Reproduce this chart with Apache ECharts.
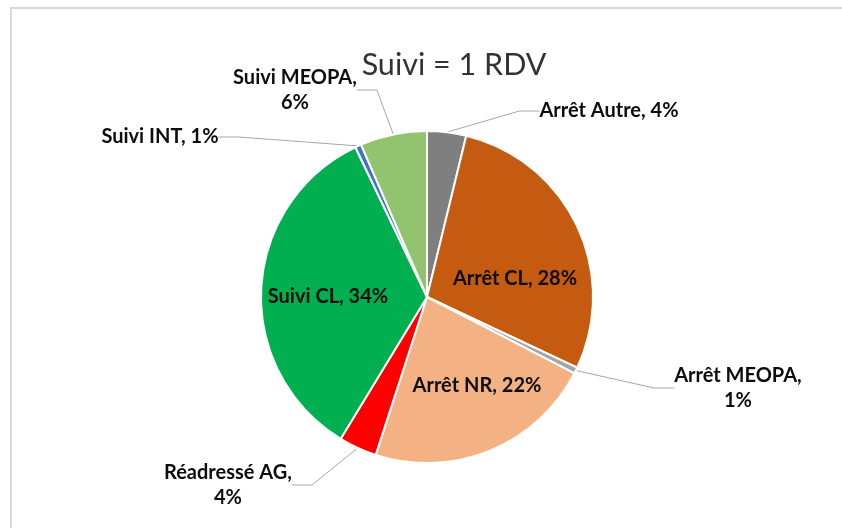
<!DOCTYPE html>
<html>
<head>
<meta charset="utf-8">
<script src="https://cdn.jsdelivr.net/npm/echarts@6/dist/echarts.min.js"></script>
<style>
  html, body { margin: 0; padding: 0; background: #fff; }
  #chart { width: 842px; height: 528px; }
</style>
</head>
<body>
<div id="chart"></div>
<script>
// slices, clockwise from 12 o'clock
var categories = ['Arrêt Autre', 'Arrêt CL', 'Arrêt MEOPA', 'Arrêt NR', 'Réadressé AG', 'Suivi CL', 'Suivi INT', 'Suivi MEOPA'];
var shares = [3.8, 28.2, 0.6, 22.4, 3.7, 34.2, 0.6, 6.5];
var sliceColors = ['#7f7f7f', '#c55a11', '#a5a5a5', '#f4b183', '#ff0000', '#00b050', '#4472c4', '#92c36e'];
// which labels sit inside the slice
var insideLabel = [false, true, false, true, false, true, false, false];
// label block centres (px)
var labelPos = [
    [609, 111],
    [515, 279],
    [738, 388],
    [477, 386],
    [228, 485],
    [328, 297],
    [160, 137],
    [295, 90]
];
// labels that wrap onto two lines
var twoLines = [false, false, true, false, true, false, false, true];

var myChart = echarts.init(document.getElementById('chart'));

var data = categories.map(function (name, i) {
    return {
        name: name,
        value: shares[i],
        itemStyle: { color: sliceColors[i] },
        label: { position: insideLabel[i] ? 'inside' : 'outside' },
        labelLine: { show: !insideLabel[i] }
    };
});

var option = {
    animation: false,
    title: {
        text: 'Suivi = 1 RDV',
        left: 449,
        top: 45,
        textAlign: 'center',
        textStyle: {
            fontFamily: 'Lato',
            fontWeight: 'normal',
            fontSize: 30.5,
            color: '#333'
        }
    },
    graphic: [{
        type: 'rect',
        shape: { x: 11, y: 8, width: 900, height: 600 },
        style: { fill: null, stroke: '#d9d9d9', lineWidth: 2 },
        silent: true
    }],
    series: [{
        type: 'pie',
        center: [427, 297],
        radius: 166,
        startAngle: 90,
        clockwise: true,
        percentPrecision: 0,
        data: data,
        itemStyle: {
            borderColor: '#fff',
            borderWidth: 2
        },
        emphasis: { disabled: true },
        label: {
            show: true,
            fontFamily: 'Lato',
            fontWeight: 'bold',
            fontSize: 20,
            lineHeight: 25,
            color: '#0d0d0d',
            formatter: function (p) {
                return twoLines[p.dataIndex] ? p.name + ',\n' + p.percent + '%' : p.name + ', ' + p.percent + '%';
            }
        },
        labelLine: {
            show: true,
            length: 20,
            length2: 20,
            lineStyle: { color: '#a6a6a6', width: 1 }
        },
        labelLayout: function (p) {
            var pos = labelPos[p.dataIndex];
            return { x: pos[0], y: pos[1], align: 'center', verticalAlign: 'middle' };
        }
    }]
};
myChart.setOption(option);
</script>
</body>
</html>
